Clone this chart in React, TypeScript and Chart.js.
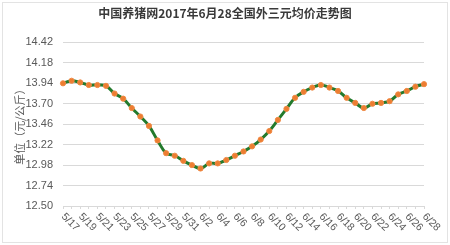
import React, { useEffect, useRef } from "react";
import { Chart, registerables } from "chart.js";

Chart.register(...registerables);

const TITLE = "中国养猪网2017年6月28全国外三元均价走势图";
const Y_TITLE = "单位（元/公斤）";

const dates = [
  "5/17", "5/18", "5/19", "5/20", "5/21", "5/22", "5/23", "5/24", "5/25", "5/26",
  "5/27", "5/28", "5/29", "5/30", "5/31", "6/1", "6/2", "6/3", "6/4", "6/5",
  "6/6", "6/7", "6/8", "6/9", "6/10", "6/11", "6/12", "6/13", "6/14", "6/15",
  "6/16", "6/17", "6/18", "6/19", "6/20", "6/21", "6/22", "6/23", "6/24", "6/25",
  "6/26", "6/27", "6/28",
];

const prices = [
  13.94, 13.97, 13.95, 13.92, 13.92, 13.91, 13.82, 13.76, 13.65, 13.55,
  13.44, 13.27, 13.12, 13.09, 13.03, 12.98, 12.94, 13.00, 13.00, 13.04,
  13.09, 13.14, 13.20, 13.28, 13.38, 13.51, 13.64, 13.77, 13.84, 13.89,
  13.92, 13.89, 13.85, 13.77, 13.71, 13.65, 13.70, 13.71, 13.73, 13.81,
  13.85, 13.90, 13.93,
];

const yTicks = [12.5, 12.74, 12.98, 13.22, 13.46, 13.7, 13.94, 14.18, 14.42];

const LABEL_COLOR = "#595959";
const FONT = "'Liberation Sans', 'Noto Sans CJK SC', sans-serif";

const decorPlugin = {
  id: "decor",
  beforeDraw(chart: any) {
    const ctx = chart.ctx;
    ctx.save();
    ctx.fillStyle = "#ffffff";
    ctx.fillRect(0, 0, chart.width, chart.height);
    ctx.strokeStyle = "#e3e3e3";
    ctx.lineWidth = 1;
    ctx.strokeRect(2.5, 2.5, chart.width - 5, chart.height - 5);
    ctx.restore();
  },
  afterDraw(chart: any) {
    const ctx = chart.ctx;
    const xs = chart.scales.x;
    const area = chart.chartArea;
    ctx.save();
    ctx.fillStyle = LABEL_COLOR;
    ctx.font = "10.5px " + FONT;
    ctx.textAlign = "left";
    ctx.textBaseline = "middle";
    dates.forEach((d, i) => {
      if (i % 2 !== 0) return;
      const x = xs.getPixelForValue(i);
      ctx.save();
      ctx.translate(x, area.bottom + 9);
      ctx.rotate(Math.PI / 4);
      ctx.fillText(d, 0, 0);
      ctx.restore();
    });
    // y axis title
    ctx.save();
    ctx.translate(20, (area.top + area.bottom) / 2);
    ctx.rotate(-Math.PI / 2);
    ctx.textAlign = "center";
    ctx.textBaseline = "middle";
    ctx.font = "11px 'Noto Sans CJK SC', sans-serif";
    ctx.fillText(Y_TITLE, 0, 0);
    ctx.restore();
    ctx.restore();
  },
};

export default function App() {
  const ref = useRef<HTMLCanvasElement | null>(null);

  useEffect(() => {
    if (!ref.current) return;
    const chart = new Chart(ref.current, {
      type: "line",
      data: {
        labels: dates,
        datasets: [
          {
            data: prices,
            borderColor: "#237a2c",
            borderWidth: 3,
            tension: 0.4,
            pointRadius: 2.6,
            pointStyle: "circle",
            pointBackgroundColor: "#ed7d31",
            pointBorderColor: "#f08a45",
            pointBorderWidth: 1,
          },
        ],
      },
      options: {
        animation: false,
        responsive: false,
        maintainAspectRatio: false,
        layout: { padding: { left: 0, right: 0, top: 0, bottom: 0 } },
        plugins: {
          legend: { display: false },
          tooltip: { enabled: false },
          title: {
            display: true,
            text: TITLE,
            color: "#3a3a3a",
            font: { family: "'Noto Sans CJK SC', sans-serif", size: 12, weight: "bold" },
            padding: { top: 6, bottom: 22 },
          },
        },
        scales: {
          x: {
            type: "category",
            offset: false,
            grid: {
              display: true,
              drawOnChartArea: false,
              drawTicks: true,
              tickLength: 3,
              color: "#d9d9d9",
            },
            border: { display: true, color: "#d9d9d9" },
            ticks: { display: false },
            afterFit(scale: any) {
              scale.height = 39;
            },
          },
          y: {
            min: 12.5,
            max: 14.42,
            afterBuildTicks(scale: any) {
              scale.ticks = yTicks.map((v) => ({ value: v }));
            },
            grid: { color: "#d9d9d9", drawTicks: false },
            border: { display: false },
            ticks: {
              color: LABEL_COLOR,
              font: { family: FONT, size: 11 },
              padding: 10,
              callback: (v: any) => Number(v).toFixed(2),
            },
            afterFit(scale: any) {
              scale.width = 63;
            },
          },
          yRight: {
            position: "right",
            display: true,
            grid: { display: false, drawTicks: false },
            border: { display: false },
            ticks: { display: false },
            afterFit(scale: any) {
              scale.width = 26;
            },
          },
        },
      },
      plugins: [decorPlugin],
    });
    return () => chart.destroy();
  }, []);

  return (
    <div style={{ position: "fixed", left: 0, top: 0, width: 450, height: 245, background: "#fff" }}>
      <canvas ref={ref} width={450} height={245} style={{ width: 450, height: 245, display: "block" }} />
    </div>
  );
}
